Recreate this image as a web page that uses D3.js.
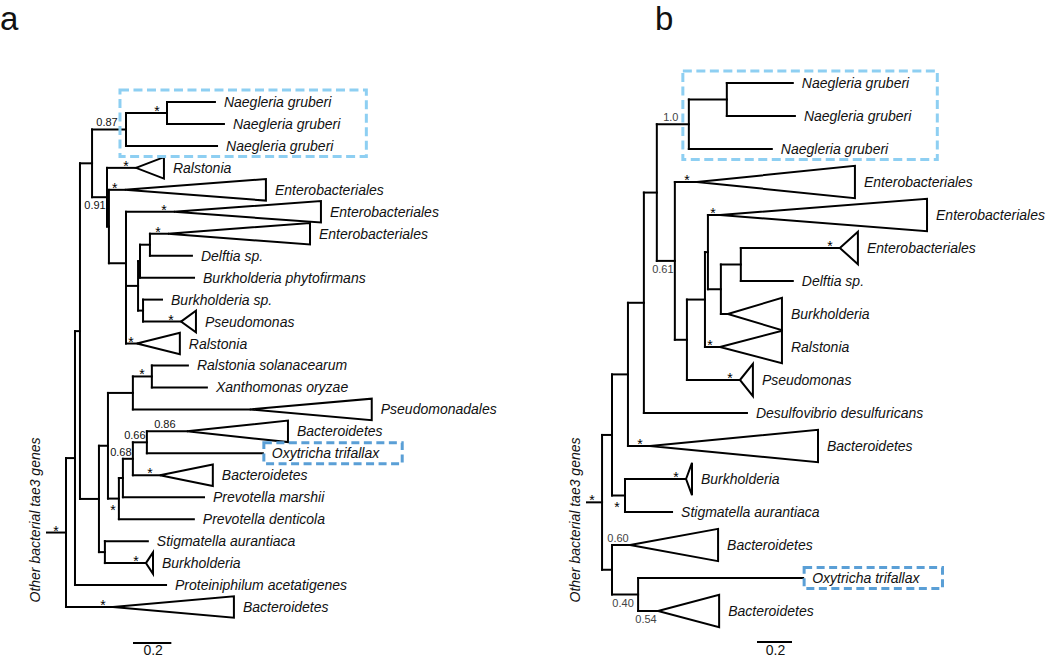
<!DOCTYPE html>
<html><head><meta charset="utf-8">
<script src="https://cdn.jsdelivr.net/npm/d3@7"></script>
<style>body{margin:0;background:#fff}svg{display:block}</style>
</head><body>
<svg id="chart" width="1050" height="659"></svg>
<script>
// ---------------- DATA ----------------
// Panel a: leaf (tip / collapsed clade) names, in top-to-bottom order
const leafNamesA = ["Naegleria gruberi","Naegleria gruberi","Naegleria gruberi","Ralstonia",
  "Enterobacteriales","Enterobacteriales","Enterobacteriales","Delftia sp.",
  "Burkholderia phytofirmans","Burkholderia sp.","Pseudomonas","Ralstonia",
  "Ralstonia solanacearum","Xanthomonas oryzae","Pseudomonadales","Bacteroidetes",
  "Oxytricha trifallax","Bacteroidetes","Prevotella marshii","Prevotella denticola",
  "Stigmatella aurantiaca","Burkholderia","Proteiniphilum acetatigenes","Bacteroidetes"];
// depth of collapsed clades (0 = single sequence)
const cladeDepthA = [0,0,0,0.146, 0.736,0.767,0.741,0, 0,0,0.078,0.224,
  0,0,0.636,0.527, 0,0.276,0,0, 0,0.037,0,0.631];
// support value on the branch leading to each tip / clade
const leafSupportA = ["","","","*", "*","*","*","", "","","*","*",
  "","","","0.86", "","*","","", "","*","","*"];
// topology + branch lengths (tips referenced by index, internal labels = support)
const newickA = "((((((0:0.250,1:0.297)*:0.214,2:0.475)0.87:0.177,(3:0.151,(4:0.083,(5:0.250,((((6:0.094,7:0.219):0.052,8:0.282):0.010,(9:0.099,10:0.198):0.026):0.063,11:0.057):0):0.089):0.010)0.91:0.078):0.063,((((12:0.188,13:0.287)*:0.099,14:0.610):0.130,((((15:0.209,16:0.605)0.66:0.073,17:0.141)0.68:0.052,18:0.423):0.021,19:0.391)*:0.057):0.047,(20:0.224,21:0.214):0.031):0.099):0.026,22:0.475):0.047,23:0.245)*:0.099;";

// Panel b
const leafNamesB = ["Naegleria gruberi","Naegleria gruberi","Naegleria gruberi","Enterobacteriales",
  "Enterobacteriales","Enterobacteriales","Delftia sp.","Burkholderia",
  "Ralstonia","Pseudomonas","Desulfovibrio desulfuricans","Bacteroidetes",
  "Burkholderia","Stigmatella aurantiaca","Bacteroidetes","Oxytricha trifallax","Bacteroidetes"];
const cladeDepthB = [0,0,0,0.903, 1.183,0.103,0,0.309, 0.354,0.074,0,0.960, 0.034,0,0.503,0,0.349];
const leafSupportB = ["","","","*", "*","*","","", "*","*","","*", "*","","0.60","","0.54"];
const newickB = "(((((((0:0.377,1:0.389):0.217,2:0.474)1.0:0.183,(3:0.126,(((4:0.069,((5:0.566,6:0.297):0.114,7:0.040):0.074):0.017,8:0.086):0.103,9:0.303):0.069)0.61:0.103):0.074,10:0.589):0.091,11:0.126):0.091,(12:0.349,13:0.269)*:0.074):0.057,(14:0.103,(15:0.943,16:0.114)0.40:0.149):0.057)*:0.086;";

const panelLetters = ["a","b"];
const scaleBarValue = 0.2;
const scaleBarLabel = "0.2";
const sideLabel = "Other bacterial tae3 genes";
const highlightTaxa = ["Naegleria gruberi","Oxytricha trifallax"];

// ---------------- CODE ----------------
function parseNewick(s){
  let i = 0;
  function node(){
    const n = {children: []};
    if (s[i] === "("){
      i++;
      n.children.push(node());
      while (s[i] === ","){ i++; n.children.push(node()); }
      i++; // ')'
    }
    let name = "";
    while (i < s.length && !":,();".includes(s[i])) name += s[i++];
    n.name = name;
    if (s[i] === ":"){
      i++; let num = "";
      while (i < s.length && !",();".includes(s[i])) num += s[i++];
      n.len = +num;
    } else n.len = 0;
    if (!n.children.length) delete n.children;
    return n;
  }
  return node();
}

const FONT = "'Liberation Sans', Arial, Helvetica, sans-serif";
const svg = d3.select("#chart");

function drawPanel(cfg){
  const g = svg.append("g");
  const root = d3.hierarchy(parseNewick(cfg.newick));
  root.each(d => { d.dist = (d.parent ? d.parent.dist : 0) + d.data.len; });
  const leaves = root.leaves();
  const x = d3.scaleLinear().domain([0, 1]).range([cfg.x0, cfg.x0 + cfg.k]);
  const y = d3.scalePoint().domain(leaves.map(l => l.data.name)).range(cfg.yRange);
  const step = y.step();
  root.eachAfter(d => {
    d.y = d.children ? (d.children[0].y + d.children[d.children.length - 1].y) / 2 : y(d.data.name);
  });
  const nodes = root.descendants();
  const line = {stroke: "#000", "stroke-width": 2, fill: "none", "stroke-linecap": "square"};
  function styl(sel){ for (const k in line) sel.attr(k, line[k]); return sel; }

  // horizontal branches
  styl(g.append("g").selectAll("path").data(nodes).join("path")
    .attr("d", d => `M${x(d.parent ? d.parent.dist : 0)},${d.y}H${x(d.dist)}`));
  // vertical connectors
  styl(g.append("g").selectAll("path").data(nodes.filter(d => d.children)).join("path")
    .attr("d", d => `M${x(d.dist)},${d.children[0].y}V${d.children[d.children.length-1].y}`));
  // collapsed clade triangles
  const tri = leaves.filter(d => cfg.depth[+d.data.name] > 0);
  g.append("g").selectAll("path").data(tri).join("path")
    .attr("d", d => {
      const xb = x(d.dist + cfg.depth[+d.data.name]), h = step * 0.49;
      return `M${x(d.dist)},${d.y}L${xb},${d.y - h}L${xb},${d.y + h}Z`;
    })
    .attr("fill", "#fff").attr("stroke", "#000").attr("stroke-width", 2).attr("stroke-linejoin", "miter");

  // tip labels
  const labels = g.append("g").selectAll("text").data(leaves).join("text")
    .attr("x", d => x(d.dist + cfg.depth[+d.data.name]) + 9)
    .attr("y", d => d.y + 5)
    .attr("font-family", FONT).attr("font-style", "italic").attr("font-size", 14)
    .attr("fill", "#111")
    .text(d => cfg.names[+d.data.name]);
  labels.each(function(d){ d.labX = +this.getAttribute("x"); d.labW = this.getComputedTextLength(); });

  // support values
  const sup = [];
  nodes.forEach(d => {
    const s = d.children ? d.data.name : cfg.support[+d.data.name];
    if (!s) return;
    const isStar = s === "*";
    const bottom = d.parent && d.parent.children[d.parent.children.length - 1] === d;
    const below = bottom && (d.children || !isStar);
    const px = d.parent ? x(d.parent.dist) : x(0);
    sup.push({s, isStar, below, nx: x(d.dist), px, y: d.y});
  });
  g.append("g").selectAll("text").data(sup).join("text")
    .attr("x", d => d.isStar ? Math.max(d.nx - 10, d.px + 5) : Math.min((d.px + d.nx) / 2 - 2, d.nx - 12))
    .attr("y", d => d.isStar ? (d.below ? d.y + 16 : d.y + 3) : (d.below ? d.y + 12 : d.y - 3))
    .attr("text-anchor", "middle")
    .attr("font-family", FONT)
    .attr("font-size", d => d.isStar ? 14 : 11)
    .attr("fill", d => d.isStar ? "#000" : cfg.numColor)
    .text(d => d.s);

  // highlight boxes
  const naeg = leaves.filter(d => cfg.names[+d.data.name] === highlightTaxa[0]);
  let anc = naeg[0];
  while (anc.parent && anc.leaves().length < naeg.length) anc = anc.parent;
  const nbx0 = x(anc.dist) - 6, nbx1 = d3.max(naeg, d => d.labX + d.labW) + 26;
  const nby0 = naeg[0].y - 12, nby1 = naeg[naeg.length - 1].y + 10.5;
  g.append("rect").attr("x", nbx0).attr("y", nby0).attr("width", nbx1 - nbx0).attr("height", nby1 - nby0)
    .attr("fill", "none").attr("stroke", "#8ECFF2").attr("stroke-width", 3).attr("stroke-dasharray", "9,4.5");
  const oxy = leaves.find(d => cfg.names[+d.data.name] === highlightTaxa[1]);
  g.append("rect").attr("x", oxy.labX - 8).attr("y", oxy.y - 10.5)
    .attr("width", oxy.labW + 31).attr("height", 21)
    .attr("fill", "none").attr("stroke", "#5A9FD6").attr("stroke-width", 3).attr("stroke-dasharray", "8,4.5");

  // side label
  g.append("text").attr("transform", `translate(${cfg.sideX},520) rotate(-90)`)
    .attr("text-anchor", "middle").attr("font-family", FONT).attr("font-style", "italic")
    .attr("font-size", 14).attr("fill", "#111").text(sideLabel);

  // scale bar
  const w = x(scaleBarValue) - x(0);
  g.append("path").attr("d", `M${cfg.barX},${cfg.barY}h${w}`).attr("stroke", "#000").attr("stroke-width", 2);
  g.append("text").attr("x", cfg.barX + w / 2 + 1).attr("y", 655)
    .attr("text-anchor", "middle").attr("font-family", FONT).attr("font-size", 14).attr("fill", "#111")
    .text(scaleBarLabel);

  // panel letter
  g.append("text").attr("x", cfg.letterX).attr("y", 30).attr("font-family", FONT)
    .attr("font-size", 33).attr("fill", "#111").text(cfg.letter);
}

drawPanel({newick: newickA, names: leafNamesA, depth: cladeDepthA, support: leafSupportA,
  x0: 47, k: 191.7, yRange: [102, 607], numColor: "#111", sideX: 40, barX: 133, barY: 643,
  letter: panelLetters[0], letterX: 0});
drawPanel({newick: newickB, names: leafNamesB, depth: cladeDepthB, support: leafSupportB,
  x0: 587, k: 175, yRange: [83, 611], numColor: "#444", sideX: 580, barX: 757, barY: 642,
  letter: panelLetters[1], letterX: 655});
</script>
</body></html>
